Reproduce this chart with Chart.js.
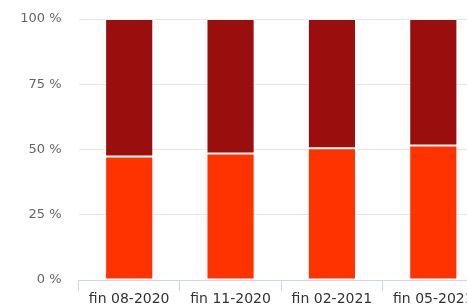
<!DOCTYPE html>
<html>
<head>
<meta charset="utf-8">
<script src="https://cdn.jsdelivr.net/npm/chart.js@4"></script>
<style>
  html, body { margin: 0; padding: 0; overflow: hidden; background: #fff; }
  #wrap { width: 484px; height: 306px; position: relative; }
</style>
</head>
<body>
<div id="wrap"><canvas id="chartCanvas"></canvas></div>
<script>
// Data
const categories = ["fin 08-2020", "fin 11-2020", "fin 02-2021", "fin 05-2021"];
const lowerShare = [47.3, 48.5, 50.5, 51.5];
const upperShare = [52.7, 51.5, 49.5, 48.5];
const yTicks = [0, 25, 50, 75, 100];

const ctx = document.getElementById("chartCanvas").getContext("2d");
new Chart(ctx, {
    type: "bar",
    data: {
        labels: categories,
        datasets: [
            { data: lowerShare, backgroundColor: "#ff3300", borderColor: "rgba(255,255,255,0.7)", borderWidth: 1, borderSkipped: false },
            { data: upperShare, backgroundColor: "#9b0e0e", borderColor: "rgba(255,255,255,0.7)", borderWidth: 1, borderSkipped: false }
        ]
    },
    options: {
        responsive: true,
        maintainAspectRatio: false,
        animation: false,
        datasets: { bar: { categoryPercentage: 1, barPercentage: 0.475 } },
        layout: { padding: { top: 19, right: 0, left: 0, bottom: 0 } },
        plugins: { legend: { display: false }, tooltip: { enabled: false } },
        scales: {
            x: {
                stacked: true,
                grid: { offset: true, drawOnChartArea: false, drawTicks: true, tickLength: 11, color: "#ccd6eb" },
                border: { color: "#ccd6eb" },
                ticks: { color: "#333333", font: { family: "DejaVu Sans", size: 14 }, padding: 0, maxRotation: 0, autoSkip: false },
                afterFit: s => { s.height = 26; s.paddingLeft = 0; s.paddingRight = 0; }
            },
            y: {
                stacked: true,
                min: 0,
                max: 100,
                afterBuildTicks: s => { s.ticks = yTicks.map(v => ({ value: v })); },
                grid: { color: "#e6e6e6", drawTicks: false },
                border: { display: false },
                ticks: { color: "#666666", font: { family: "DejaVu Sans", size: 13 }, padding: 17, callback: v => v + " %" },
                afterFit: s => { s.width = 78.5; s.paddingTop = 0; s.paddingBottom = 0; }
            }
        }
    }
});
</script>
</body>
</html>
